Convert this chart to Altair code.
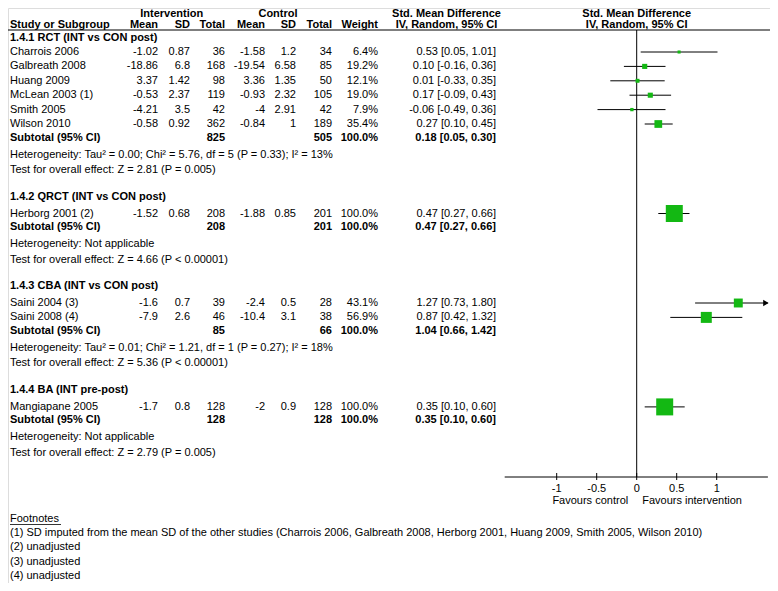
import altair as alt
import pandas as pd

# ------------------------------------------------------------------ data
group_titles = ["1.4.1 RCT (INT vs CON post)", "1.4.2 QRCT (INT vs CON post)",
                "1.4.3 CBA (INT vs CON post)", "1.4.4 BA (INT pre-post)"]
study_group = [0, 0, 0, 0, 0, 0, 1, 2, 2, 3]
study_names = ["Charrois 2006", "Galbreath 2008", "Huang 2009", "McLean 2003 (1)",
               "Smith 2005", "Wilson 2010", "Herborg 2001 (2)", "Saini 2004 (3)",
               "Saini 2008 (4)", "Mangiapane 2005"]
int_mean = [-1.02, -18.86, 3.37, -0.53, -4.21, -0.58, -1.52, -1.6, -7.9, -1.7]
int_sd = [0.87, 6.8, 1.42, 2.37, 3.5, 0.92, 0.68, 0.7, 2.6, 0.8]
int_n = [36, 168, 98, 119, 42, 362, 208, 39, 46, 128]
ctl_mean = [-1.58, -19.54, 3.36, -0.93, -4, -0.84, -1.88, -2.4, -10.4, -2]
ctl_sd = [1.2, 6.58, 1.35, 2.32, 2.91, 1, 0.85, 0.5, 3.1, 0.9]
ctl_n = [34, 85, 50, 105, 42, 189, 201, 28, 38, 128]
weight = [6.4, 19.2, 12.1, 19.0, 7.9, 35.4, 100.0, 43.1, 56.9, 100.0]
smd = [0.53, 0.10, 0.01, 0.17, -0.06, 0.27, 0.47, 1.27, 0.87, 0.35]
smd_lo = [0.05, -0.16, -0.33, -0.09, -0.49, 0.10, 0.27, 0.73, 0.42, 0.10]
smd_hi = [1.01, 0.36, 0.35, 0.43, 0.36, 0.45, 0.66, 1.80, 1.32, 0.60]

sub_int_n = [825, 208, 85, 128]
sub_ctl_n = [505, 201, 66, 128]
sub_smd = [0.18, 0.47, 1.04, 0.35]
sub_lo = [0.05, 0.27, 0.66, 0.10]
sub_hi = [0.30, 0.66, 1.42, 0.60]
heterogeneity = [
    "Heterogeneity: Tau\u00b2 = 0.00; Chi\u00b2 = 5.76, df = 5 (P = 0.33); I\u00b2 = 13%",
    "Heterogeneity: Not applicable",
    "Heterogeneity: Tau\u00b2 = 0.01; Chi\u00b2 = 1.21, df = 1 (P = 0.27); I\u00b2 = 18%",
    "Heterogeneity: Not applicable",
]
overall = [
    "Test for overall effect: Z = 2.81 (P = 0.005)",
    "Test for overall effect: Z = 4.66 (P < 0.00001)",
    "Test for overall effect: Z = 5.36 (P < 0.00001)",
    "Test for overall effect: Z = 2.79 (P = 0.005)",
]
tick_values = [-1, -0.5, 0, 0.5, 1]
tick_labels = ["-1", "-0.5", "0", "0.5", "1"]
favours = ["Favours control", "Favours intervention"]
footnote_title = "Footnotes"
footnotes = [
    "(1) SD imputed from the mean SD of the other studies (Charrois 2006, Galbreath 2008, "
    "Herborg 2001, Huang 2009, Smith 2005, Wilson 2010)",
    "(2) unadjusted",
    "(3) unadjusted",
    "(4) unadjusted",
]
header1 = {"int": "Intervention", "ctl": "Control", "ci": "Std. Mean Difference",
           "plot": "Std. Mean Difference"}
header2 = {"study": "Study or Subgroup", "int_mean": "Mean", "int_sd": "SD", "int_n": "Total",
           "ctl_mean": "Mean", "ctl_sd": "SD", "ctl_n": "Total", "weight": "Weight",
           "ci": "IV, Random, 95% CI", "plot": "IV, Random, 95% CI"}
subtotal_label = "Subtotal (95% CI)"

# ------------------------------------------------------------------ layout
W, H = 762, 575
OFF = 8


def P(v):
    return v - OFF


FONT = "Liberation Sans"
FS = 11
GREEN = "#13b813"

Y_HEAD1, Y_HEAD2, Y_LINE = P(13.5), P(24.5), P(30)
Y_FIRST_GROUP = P(38)
D_FIRST0 = 14
D_FIRST, D_STUDY, D_SUB, D_HET, D_TEST, D_GROUP = 17, 14.4, 13.5, 17, 15.5, 26.5
ZERO_PX, PX_UNIT = P(636.7), 80.0
AXIS_MIN, AXIS_MAX = -1.65, 1.64
AXIS_Y = P(477)
TICK_UP, TICK_DN = 4, 3
TICK_LABEL_Y = P(488.5)
FAV_Y = P(501)
FOOT_Y0, FOOT_DY = P(519), 14.2
DIAMOND_HALF = 6

COLS = {  # name: (x pixel, align)
    "study": (P(10), "left"),
    "int_mean": (P(158), "right"),
    "int_sd": (P(190), "right"),
    "int_n": (P(225), "right"),
    "ctl_mean": (P(265), "right"),
    "ctl_sd": (P(296), "right"),
    "ctl_n": (P(332), "right"),
    "weight": (P(378), "right"),
    "ci": (P(496), "right"),
    "int": (P(171.7), "center"),
    "ctl": (P(278), "center"),
    "ci_head": (P(446.5), "center"),
    "foot": (P(10), "left"),
}

xscale = alt.Scale(domain=[-ZERO_PX / PX_UNIT, (W - ZERO_PX) / PX_UNIT], nice=False, zero=False)
yscale = alt.Scale(domain=[0, H], reverse=True, nice=False, zero=False)


def X(f):
    return alt.X(f, type="quantitative", scale=xscale, axis=None)


def Y(f):
    return alt.Y(f, type="quantitative", scale=yscale, axis=None)


def fmt(v):
    return f"{v:g}"


def ci_text(e, lo, hi):
    return f"{e:.2f} [{lo:.2f}, {hi:.2f}]"


# ------------------------------------------------------------------ build rows
cells = []     # text cells
studies = []   # forest rows
diamonds = []  # diamond polygons


def cell(y, col, text, bold=False):
    cells.append({"y": y, "col": col, "text": text, "bold": bold})


cell(Y_HEAD1, "int", header1["int"], True)
cell(Y_HEAD1, "ctl", header1["ctl"], True)
cell(Y_HEAD1, "ci_head", header1["ci"], True)
cell(Y_HEAD1, "plot", header1["plot"], True)
for k, v in header2.items():
    cell(Y_HEAD2, "ci_head" if k == "ci" else k, v, True)

y = Y_FIRST_GROUP
for g, title in enumerate(group_titles):
    cell(y, "study", title, True)
    idx = [i for i, sg in enumerate(study_group) if sg == g]
    y += D_FIRST0 if g == 0 else D_FIRST
    for j, i in enumerate(idx):
        if j > 0:
            y += D_STUDY
        cell(y, "study", study_names[i])
        cell(y, "int_mean", fmt(int_mean[i]))
        cell(y, "int_sd", fmt(int_sd[i]))
        cell(y, "int_n", fmt(int_n[i]))
        cell(y, "ctl_mean", fmt(ctl_mean[i]))
        cell(y, "ctl_sd", fmt(ctl_sd[i]))
        cell(y, "ctl_n", fmt(ctl_n[i]))
        cell(y, "weight", f"{weight[i]:.1f}%")
        cell(y, "ci", ci_text(smd[i], smd_lo[i], smd_hi[i]))
        studies.append({"y": y, "smd": smd[i], "lo": max(smd_lo[i], AXIS_MIN),
                        "hi": min(smd_hi[i], AXIS_MAX), "w": weight[i],
                        "arrow": smd_hi[i] > AXIS_MAX})
    y += D_SUB
    cell(y, "study", subtotal_label, True)
    cell(y, "int_n", fmt(sub_int_n[g]), True)
    cell(y, "ctl_n", fmt(sub_ctl_n[g]), True)
    cell(y, "weight", "100.0%", True)
    cell(y, "ci", ci_text(sub_smd[g], sub_lo[g], sub_hi[g]), True)
    diamonds += [
        {"g": g, "x": sub_lo[g], "y": y, "y2": y},
        {"g": g, "x": sub_smd[g], "y": y - DIAMOND_HALF, "y2": y + DIAMOND_HALF},
        {"g": g, "x": sub_hi[g], "y": y, "y2": y},
    ]
    y += D_HET
    cell(y, "study", heterogeneity[g])
    y += D_TEST
    cell(y, "study", overall[g])
    y += D_GROUP

cell(FOOT_Y0, "foot", footnote_title)
for k, t in enumerate(footnotes):
    cell(FOOT_Y0 + (k + 1) * FOOT_DY, "foot", t)

cells_df = pd.DataFrame(cells)
studies_df = pd.DataFrame(studies)
diam_df = pd.DataFrame(diamonds)

layers = []

# text columns
for (col, bold), sub in cells_df.groupby(["col", "bold"]):
    weight_style = "bold" if bold else "normal"
    if col == "plot":
        m = alt.Chart(sub).mark_text(align="center", baseline="middle", font=FONT, fontSize=FS,
                                     fontWeight=weight_style, color="black")
        layers.append(m.encode(x=X("xz"), y=Y("y"), text="text:N").transform_calculate(xz="0"))
        continue
    px, align = COLS[col]
    m = alt.Chart(sub).mark_text(align=align, baseline="middle", font=FONT, fontSize=FS,
                                 fontWeight=weight_style, color="black")
    layers.append(m.encode(x=alt.value(px), y=Y("y"), text="text:N"))

# header line
layers.append(alt.Chart(pd.DataFrame({"y": [Y_LINE]})).mark_rule(color="black", strokeWidth=1.2)
              .encode(x=alt.value(0), x2=alt.value(W), y=Y("y")))

# footnote underline
layers.append(alt.Chart(pd.DataFrame({"y": [FOOT_Y0 + 5.5]})).mark_rule(color="black", strokeWidth=0.8)
              .encode(x=alt.value(P(10)), x2=alt.value(P(61)), y=Y("y")))

# zero line
layers.append(alt.Chart(pd.DataFrame({"x": [0], "y": [Y_LINE], "y2": [AXIS_Y]}))
              .mark_rule(color="black", strokeWidth=1).encode(x=X("x"), y=Y("y"), y2="y2"))

# axis
layers.append(alt.Chart(pd.DataFrame({"x": [AXIS_MIN], "x2": [AXIS_MAX], "y": [AXIS_Y]}))
              .mark_rule(color="black", strokeWidth=1).encode(x=X("x"), x2="x2", y=Y("y")))
ticks_df = pd.DataFrame({"x": tick_values, "label": tick_labels,
                         "y": AXIS_Y - TICK_UP, "y2": AXIS_Y + TICK_DN, "ly": TICK_LABEL_Y})
layers.append(alt.Chart(ticks_df).mark_rule(color="black", strokeWidth=1)
              .encode(x=X("x"), y=Y("y"), y2="y2"))
layers.append(alt.Chart(ticks_df).mark_text(align="center", baseline="middle", font=FONT,
                                            fontSize=FS, color="black")
              .encode(x=X("x"), y=Y("ly"), text="label:N"))
fav_df = pd.DataFrame({"x": [0, 0], "y": [FAV_Y, FAV_Y], "t": favours})
layers.append(alt.Chart(fav_df.iloc[[0]]).mark_text(align="right", baseline="middle", dx=-8.5,
                                                    font=FONT, fontSize=FS, color="black")
              .encode(x=X("x"), y=Y("y"), text="t:N"))
layers.append(alt.Chart(fav_df.iloc[[1]]).mark_text(align="left", baseline="middle", dx=5.5,
                                                    font=FONT, fontSize=FS, color="black")
              .encode(x=X("x"), y=Y("y"), text="t:N"))

# CI whiskers
layers.append(alt.Chart(studies_df).mark_rule(color="black", strokeWidth=1)
              .encode(x=X("lo"), x2="hi", y=Y("y")))
# arrows for truncated CIs
layers.append(alt.Chart(studies_df[studies_df["arrow"]]).mark_point(
    shape="triangle-right", filled=True, color="black", size=40, xOffset=-2, opacity=1)
    .encode(x=X("hi"), y=Y("y")))
# squares
layers.append(alt.Chart(studies_df).mark_square(color=GREEN, opacity=1)
              .encode(x=X("smd"), y=Y("y"),
                      size=alt.Size("w:Q", scale=alt.Scale(type="pow", exponent=1.6,
                                                           domain=[0, 100], range=[6, 289]),
                                    legend=None)))
# diamonds
layers.append(alt.Chart(diam_df).mark_area(color="black", orient="vertical", opacity=1)
              .encode(x=X("x"), y=Y("y"), y2="y2", detail="g:N", order="x:Q"))

chart = alt.layer(*layers).properties(
    width=W, height=H, padding=0, autosize=alt.AutoSizeParams(type="none")
).configure_view(stroke=None).configure(background="white")

chart.save("out.html", embed_options={"renderer": "svg", "actions": False})
